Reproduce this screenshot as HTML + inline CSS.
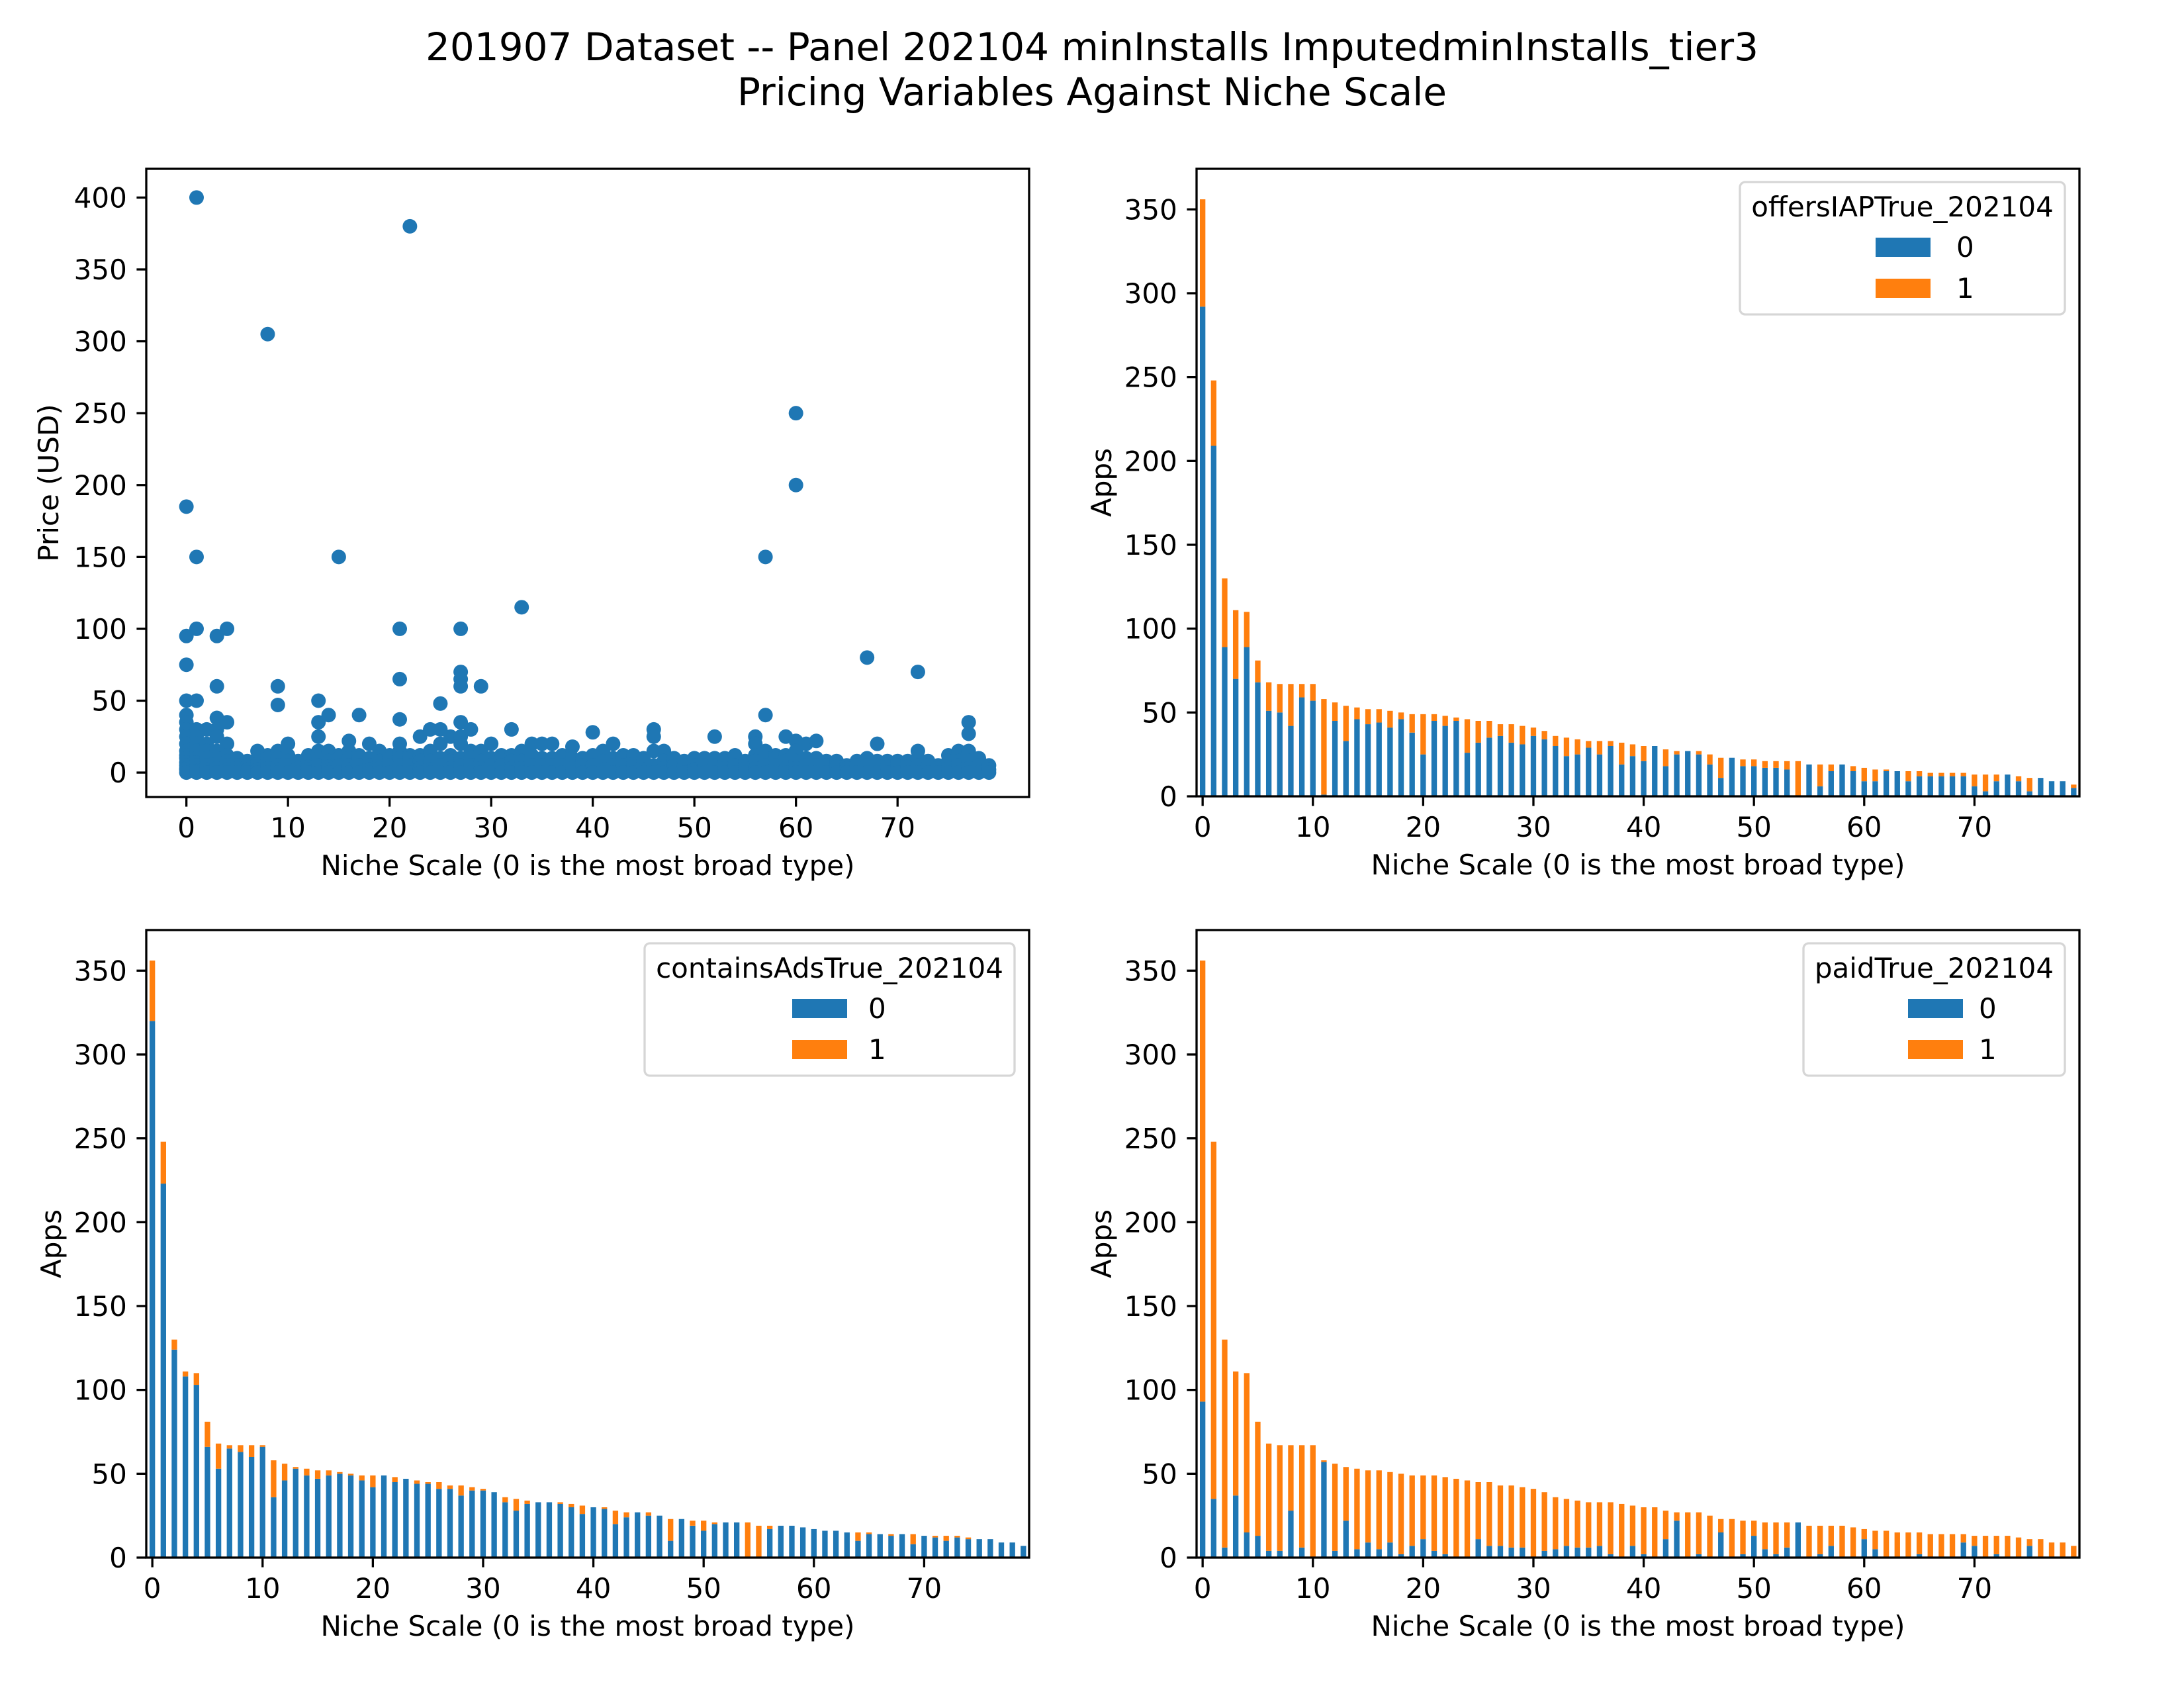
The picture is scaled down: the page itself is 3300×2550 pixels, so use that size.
<!DOCTYPE html>
<html><head><meta charset="utf-8">
<style>
html,body{margin:0;padding:0;background:#fff;}
svg{display:block;font-family:"DejaVu Sans","Liberation Sans",sans-serif;}
</style></head>
<body>
<svg id="fig" width="3300" height="2550" viewBox="0 0 3300 2550" xmlns="http://www.w3.org/2000/svg">
<rect width="3300" height="2550" fill="#fff"/>
<text x="1650" y="91" font-size="58" text-anchor="middle">201907 Dataset -- Panel 202104 minInstalls ImputedminInstalls_tier3</text>
<text x="1650" y="159" font-size="58" text-anchor="middle">Pricing Variables Against Niche Scale</text>
<g id="layer"></g>
</svg>
<script>
// ---- data ----
const totals = [356,248,130,111,110,81,68,67,67,67,67,58,56,54,53,52,52,51,50,49,49,49,48,47,46,45,45,43,43,42,41,39,36,35,34,33,33,33,32,31,30,30,28,27,27,27,25,23,23,22,22,21,21,21,21,19,19,19,19,18,17,16,16,15,15,15,14,14,14,14,13,13,13,13,12,11,11,9,9,7];
const iapZero = [292,209,89,70,89,68,51,50,42,59,57,1,45,33,46,43,44,41,46,38,25,45,42,45,26,32,35,36,32,31,36,34,30,24,25,29,25,30,19,24,21,30,18,25,27,25,19,11,23,18,18,17,17,16,0,19,6,15,19,15,9,9,15,15,9,12,12,12,12,12,6,3,9,13,9,3,11,9,9,5];
const adsZero = [320,223,124,108,103,66,53,65,63,60,66,36,46,53,49,47,49,50,49,46,42,49,45,47,44,44,41,41,37,40,40,39,33,28,32,33,33,32,30,26,30,29,20,24,27,25,25,10,23,19,16,20,21,21,0,0,17,19,19,18,17,16,16,15,10,14,14,13,14,8,13,12,10,12,11,11,11,9,9,7];
const paidZero = [93,35,6,37,15,13,4,4,28,6,0,57,4,22,5,9,5,9,2,7,11,4,2,0,0,11,7,7,6,6,0,4,5,7,6,6,7,2,0,7,2,0,11,22,0,2,0,15,0,2,13,5,2,6,21,0,2,7,0,0,11,5,0,0,0,2,0,0,0,9,7,0,2,0,0,7,0,0,0,0];
const barTicks = [0,10,20,30,40,50,60,70];
const barYTicks = [0,50,100,150,200,250,300,350];
const scatterYTicks = [0,50,100,150,200,250,300,350,400];
// price points per niche scale: "x:prices"
const scatterData = "0:185,95,75,50,40,35,30,25,20,15,12,10,7,5,3,2,0;1:400,150,100,50,30,25,20,15,10,7,5,3,1,0;2:30,20,15,10,5,2,0;3:95,60,38,30,25,15,10,6,3,0;4:100,35,20,12,8,5,2,0;5:10,8,5,3,0;6:8,5,2,0;7:15,10,6,2,0;8:305,12,10,6,3,0;9:60,47,15,10,5,2,0;10:20,12,8,5,0;11:8,3,0;12:12,8,4,2,0;13:50,35,25,15,10,5,0;14:40,15,8,4,2,0;15:150,12,10,5,0;16:22,15,10,5,2,0;17:40,12,10,5,0;18:20,10,5,2,0;19:15,8,3,0;20:12,10,5,0;21:100,65,37,20,15,10,5,0;22:380,12,10,5,0;23:25,12,8,3,0;24:30,15,8,2,0;25:48,30,20,10,5,0;26:25,12,8,3,0;27:100,70,65,60,35,25,20,10,5,0;28:30,15,10,5,0;29:60,15,8,3,0;30:20,10,5,0;31:12,10,5,0;32:30,12,8,3,0;33:115,15,8,3,0;34:20,12,5,0;35:20,10,5,0;36:20,10,5,0;37:12,10,5,0;38:18,10,3,0;39:10,5,0;40:28,12,5,0;41:15,8,2,0;42:20,10,5,0;43:12,10,5,0;44:12,6,0;45:10,8,2,0;46:30,25,15,5,0;47:15,8,3,0;48:10,5,0;49:8,5,0;50:10,5,2,0;51:10,5,0;52:25,10,5,0;53:10,8,3,0;54:12,5,0;55:8,3,0;56:25,20,12,8,3,0;57:150,40,15,10,5,0;58:12,10,5,0;59:25,12,8,3,0;60:250,200,22,15,8,3,0;61:20,10,5,0;62:22,10,5,0;63:8,5,0;64:8,4,0;65:5,3,0;66:8,5,0;67:80,10,5,0;68:20,8,5,0;69:8,4,0;70:8,5,0;71:8,4,0;72:70,15,10,5,0;73:8,5,0;74:5,3,0;75:12,8,3,0;76:15,8,5,0;77:35,27,15,8,3,0;78:10,5,0;79:5,2,0";

const NS="http://www.w3.org/2000/svg";
const layer=document.getElementById('layer');
const BLUE="#1f77b4", ORANGE="#ff7f0e";
function mk(tag, attrs, parent){
  const e=document.createElementNS(NS,tag);
  for(const k in attrs) e.setAttribute(k,attrs[k]);
  (parent||layer).appendChild(e); return e;
}
const TL=14.6, LW=3.3, FS=42;

function axesFrame(g, L,T,R,B){
  const f=mk('rect',{x:L,y:T,width:R-L,height:B-T,fill:'none',stroke:'#000','stroke-width':LW},g);
  
  
}
function xTicks(g, ticks, sx, B){
  ticks.forEach(t=>{
    const x=sx(t);
    const l=mk('line',{x1:x,x2:x,y1:B,y2:B+TL,stroke:'#000','stroke-width':LW},g);
    
    
    const tx=mk('text',{x:x,y:B+TL+14.6+32,'font-size':FS,'text-anchor':'middle'},g);
    
    
    tx.textContent=t;
  });
}
function yTicks(g, ticks, sy, L){
  ticks.forEach(t=>{
    const y=sy(t);
    const l=mk('line',{x1:L-TL,x2:L,y1:y,y2:y,stroke:'#000','stroke-width':LW},g);
    
    
    const tx=mk('text',{x:L-TL-14.6,y:y+15,'font-size':FS,'text-anchor':'end'},g);
    
    
    tx.textContent=t;
  });
}
function labels(g, L,T,R,B, ylab, ylabX){
  const xl=mk('text',{x:(L+R)/2,y:B+118,'font-size':FS,'text-anchor':'middle'},g);
  
  
  xl.textContent='Niche Scale (0 is the most broad type)';
  const yl=mk('text',{x:0,y:0,'font-size':FS,'text-anchor':'middle',transform:`translate(${ylabX},${(T+B)/2}) rotate(-90)`},g);
  
  
  yl.textContent=ylab;
}

// ---- scatter panel ----
(function(){
  const L=221,T=255,R=1555,B=1204;
  const g=mk('g',{});
  
  
  const x0=-3.95,x1=82.95,y0=-17,y1=420;
  const sx=v=>L+(v-x0)/(x1-x0)*(R-L);
  const sy=v=>B-(v-y0)/(y1-y0)*(B-T);
  scatterData.split(';').forEach(grp=>{
    const [xs,vs]=grp.split(':');
    vs.split(',').forEach(v=>{
      const c=mk('circle',{cx:sx(+xs),cy:sy(+v),r:11,fill:BLUE},g);
      
      
    });
  });
  axesFrame(g,L,T,R,B);
  xTicks(g,barTicks,sx,B);
  yTicks(g,scatterYTicks,sy,L);
  labels(g,L,T,R,B,'Price (USD)',88);
})();

// ---- bar panels ----
function barPanel(name,L,T,zero,legendTitle,legendBox,patchX,textX){
  const R=L+1334,B=T+948;
  const g=mk('g',{});
  
  
  const x0=-0.55,x1=79.52,y1=374.2;
  const sx=v=>L+(v-x0)/(x1-x0)*(R-L);
  const sy=v=>B-v/y1*(B-T);
  const w=0.5*(R-L)/(x1-x0);
  totals.forEach((tot,i)=>{
    const z=zero[i];
    const b=mk('rect',{x:sx(i)-w/2,y:sy(z),width:w,height:sy(0)-sy(z),fill:BLUE},g);
    
    
    const b2=mk('rect',{x:sx(i)-w/2,y:sy(tot),width:w,height:sy(z)-sy(tot),fill:ORANGE},g);
    
    
  });
  axesFrame(g,L,T,R,B);
  xTicks(g,barTicks,sx,B);
  yTicks(g,barYTicks,sy,L);
  labels(g,L,T,R,B,'Apps',L-129);
  // legend
  const lg=mk('g',{},g);
  
  
  const lx=legendBox[0], lw=legendBox[1], ly=T+20;
  mk('rect',{x:lx,y:ly,width:lw,height:200,rx:8,fill:'#fff','fill-opacity':0.8,stroke:'#d6d6d6','stroke-width':3.3},lg);
  const tt=mk('text',{x:lx+lw/2,y:ly+52,'font-size':FS,'text-anchor':'middle'},lg);
  
  
  tt.textContent=legendTitle;
  [[BLUE,'0',ly+84],[ORANGE,'1',ly+146]].forEach(e=>{
    const p=mk('rect',{x:patchX,y:e[2],width:83,height:29,fill:e[0]},lg);
    
    
    const t=mk('text',{x:textX,y:e[2]+29,'font-size':FS},lg);
    
    
    t.textContent=e[1];
  });
}
barPanel('offers-iap-panel',1808,255,iapZero,'offersIAPTrue_202104',[2629,491],2834,2956);
barPanel('contains-ads-panel',221,1405,adsZero,'containsAdsTrue_202104',[974,559],1197,1312);
barPanel('paid-panel',1808,1405,paidZero,'paidTrue_202104',[2725,395],2883,2990);
</script>
</body></html>
